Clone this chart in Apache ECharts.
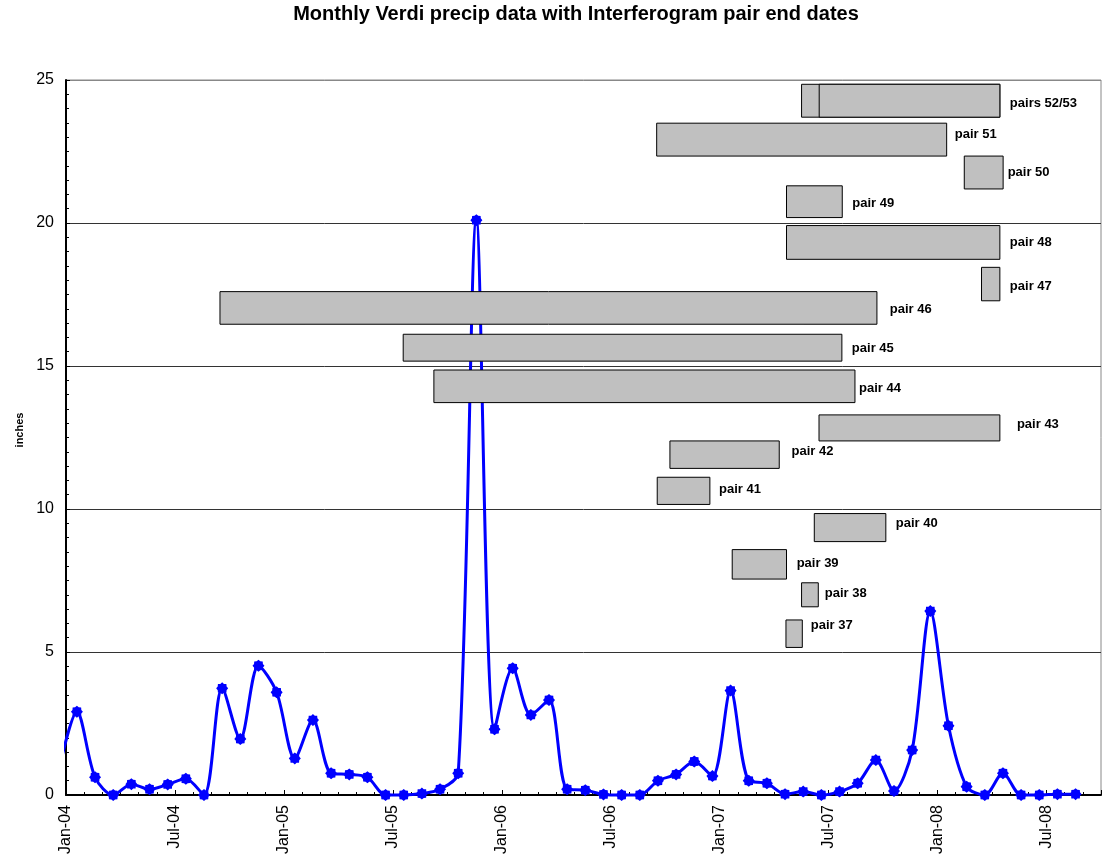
<!DOCTYPE html>
<html>
<head>
<meta charset="utf-8">
<script src="https://cdn.jsdelivr.net/npm/echarts@6/dist/echarts.min.js"></script>
<style>
  html, body { margin: 0; padding: 0; background: #fff; }
  #chart { width: 1110px; height: 863px; }
</style>
</head>
<body>
<div id="chart"></div>
<script>
// monthly precip, Dec-03 .. Aug-08 (inches)
const precipMonths = [
  'Dec-03',
  'Jan-04', 'Feb-04', 'Mar-04', 'Apr-04', 'May-04', 'Jun-04', 'Jul-04', 'Aug-04', 'Sep-04', 'Oct-04', 'Nov-04', 'Dec-04',
  'Jan-05', 'Feb-05', 'Mar-05', 'Apr-05', 'May-05', 'Jun-05', 'Jul-05', 'Aug-05', 'Sep-05', 'Oct-05', 'Nov-05', 'Dec-05',
  'Jan-06', 'Feb-06', 'Mar-06', 'Apr-06', 'May-06', 'Jun-06', 'Jul-06', 'Aug-06', 'Sep-06', 'Oct-06', 'Nov-06', 'Dec-06',
  'Jan-07', 'Feb-07', 'Mar-07', 'Apr-07', 'May-07', 'Jun-07', 'Jul-07', 'Aug-07', 'Sep-07', 'Oct-07', 'Nov-07', 'Dec-07',
  'Jan-08', 'Feb-08', 'Mar-08', 'Apr-08', 'May-08', 'Jun-08', 'Jul-08', 'Aug-08'
]
const precipInches = [
  0.85,
  2.91, 0.62, 0.00, 0.38, 0.20, 0.37, 0.57, 0.00, 3.73, 1.96, 4.52, 3.59,
  1.28, 2.62, 0.76, 0.72, 0.62, 0.00, 0.00, 0.05, 0.20, 0.76, 20.1, 2.30,
  4.43, 2.80, 3.32, 0.20, 0.17, 0.02, 0.00, 0.00, 0.50, 0.72, 1.17, 0.66,
  3.65, 0.50, 0.41, 0.03, 0.12, 0.00, 0.12, 0.41, 1.22, 0.14, 1.57, 6.43,
  2.42, 0.29, 0.00, 0.76, 0.00, 0.00, 0.03, 0.03
]
const xTickLabels = ['Jan-04', 'Jul-04', 'Jan-05', 'Jul-05', 'Jan-06', 'Jul-06', 'Jan-07', 'Jul-07', 'Jan-08', 'Jul-08']

// interferogram pairs: start / end in months after Jan-04, bar bottom / top in inches
const pairNames = ['pair 52', 'pair 53', 'pair 51', 'pair 50', 'pair 49', 'pair 48', 'pair 47', 'pair 46', 'pair 45',
  'pair 44', 'pair 43', 'pair 42', 'pair 41', 'pair 40', 'pair 39', 'pair 38', 'pair 37']
const pairStart = [40.51, 41.48, 32.53, 49.47, 39.68, 39.68, 50.42, 8.48, 18.57, 20.26, 41.47, 33.26, 32.56, 41.21, 36.69, 40.51, 39.65]
const pairEnd = [51.43, 51.43, 48.50, 51.61, 42.75, 51.43, 51.43, 44.66, 42.73, 43.45, 51.43, 39.28, 35.46, 45.15, 39.68, 41.43, 40.55]
const pairLow = [23.70, 23.70, 22.34, 21.19, 20.19, 18.73, 17.28, 16.46, 15.17, 13.72, 12.38, 11.42, 10.16, 8.86, 7.55, 6.58, 5.16]
const pairHigh = [24.85, 24.85, 23.49, 22.34, 21.30, 19.91, 18.45, 17.60, 16.11, 14.86, 13.29, 12.38, 11.11, 9.84, 8.58, 7.42, 6.12]

// text labels next to the bars (anchor = left edge, middle of text)
const pairLabels = ['pairs 52/53', 'pair 51', 'pair 50', 'pair 49', 'pair 48', 'pair 47', 'pair 46', 'pair 45',
  'pair 44', 'pair 43', 'pair 42', 'pair 41', 'pair 40', 'pair 39', 'pair 38', 'pair 37']
const labelMonth = [51.98, 48.95, 51.86, 43.30, 51.98, 51.98, 45.37, 43.28, 43.67, 52.37, 39.96, 35.96, 45.70, 40.24, 41.79, 41.02]
const labelInches = [24.19, 23.08, 21.76, 20.69, 19.31, 17.77, 16.98, 15.63, 14.20, 12.97, 12.00, 10.70, 9.48, 8.11, 7.05, 5.92]

const FONT = '"Liberation Sans", Arial, sans-serif'
const MARKER_OFFSET = 0.6 // points sit a bit after the month tick

// 8-point blob marker like the excel one
const starPath = (() => {
  const pts = []
  for (let k = 0; k < 16; k++) {
    const r = k % 2 ? 0.8 : 1
    const a = k * Math.PI / 8
    pts.push((50 + 50 * r * Math.cos(a)).toFixed(2) + ' ' + (50 + 50 * r * Math.sin(a)).toFixed(2))
  }
  return 'path://M' + pts.join(' L') + ' Z'
})()

const lineData = precipInches.map((v, i) => {
  const item = { value: [i - 1 + MARKER_OFFSET, v], name: precipMonths[i] }
  if (i === 0) item.symbolSize = 0
  return item
})
const rectData = pairStart.map((s, i) => ({ name: pairNames[i], value: [s, pairEnd[i], pairLow[i], pairHigh[i]] }))
const labelData = labelMonth.map((m, i) => ({ name: pairLabels[i], value: [m, labelInches[i]] }))

const chart = echarts.init(document.getElementById('chart'))
chart.setOption({
  animation: false,
  textStyle: { fontFamily: FONT },
  graphic: [
    {
      type: 'text',
      x: 576,
      y: 4,
      style: {
        text: 'Monthly Verdi precip data with Interferogram pair end dates',
        font: 'bold 20px ' + FONT,
        fill: '#000',
        align: 'center',
        verticalAlign: 'top'
      }
    },
    {
      type: 'text',
      x: 20,
      y: 430,
      rotation: Math.PI / 2,
      style: { text: 'inches', font: 'bold 11px ' + FONT, fill: '#000', align: 'center', verticalAlign: 'middle' }
    }
  ],
  grid: { left: 66, right: 9, top: 80, bottom: 68, show: true, borderColor: '#888', borderWidth: 1 },
  xAxis: {
    type: 'value',
    min: 0,
    max: 57,
    interval: 6,
    axisLine: { lineStyle: { color: '#000', width: 2 } },
    axisTick: { inside: true, length: 5, lineStyle: { color: '#000' } },
    minorTick: { show: true, splitNumber: 6, length: 3, lineStyle: { color: '#000' } },
    splitLine: { show: false },
    axisLabel: {
      rotate: 90,
      margin: 10,
      fontSize: 16,
      color: '#000',
      showMaxLabel: false,
      formatter: v => (v % 6 === 0 && xTickLabels[v / 6]) || ''
    }
  },
  yAxis: {
    type: 'value',
    min: 0,
    max: 25,
    interval: 5,
    axisLine: { show: true, lineStyle: { color: '#000', width: 2 } },
    axisTick: { show: true, inside: true, length: 4, lineStyle: { color: '#000' } },
    minorTick: { show: true, splitNumber: 10, length: 3, lineStyle: { color: '#000' } },
    splitLine: { lineStyle: { color: ['#333', '#333', '#333', '#333', '#333', '#888'], width: 1 } },
    axisLabel: { fontSize: 16, color: '#000', margin: 12 }
  },
  series: [
    {
      type: 'line',
      data: lineData,
      smooth: 0.3,
      clip: false,
      symbol: starPath,
      symbolSize: 12,
      showAllSymbol: true,
      lineStyle: { color: '#0000ff', width: 3 },
      itemStyle: { color: '#0000ff' },
      z: 2
    },
    {
      type: 'custom',
      data: rectData,
      encode: { x: [0, 1], y: [2, 3] },
      renderItem: (params, api) => {
        const a = api.coord([api.value(0), api.value(3)])
        const b = api.coord([api.value(1), api.value(2)])
        return {
          type: 'rect',
          shape: { x: a[0], y: a[1], width: b[0] - a[0], height: b[1] - a[1] },
          style: { fill: '#c0c0c0', stroke: '#000', lineWidth: 1 }
        }
      },
      z: 3
    },
    {
      type: 'custom',
      data: labelData,
      encode: { x: 0, y: 1 },
      renderItem: (params, api) => {
        const p = api.coord([api.value(0), api.value(1)])
        return {
          type: 'text',
          x: p[0],
          y: p[1],
          style: {
            text: pairLabels[params.dataIndex],
            font: 'bold 13px ' + FONT,
            fill: '#000',
            align: 'left',
            verticalAlign: 'middle'
          }
        }
      },
      z: 4
    }
  ]
})
</script>
</body>
</html>
